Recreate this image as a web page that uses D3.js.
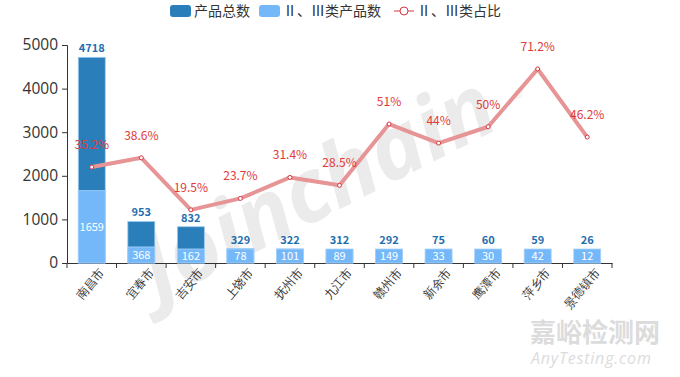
<!DOCTYPE html>
<html>
<head>
<meta charset="utf-8">
<script src="https://cdn.jsdelivr.net/npm/d3@7"></script>
<style>
	body { margin: 0; background: #fff; }
	svg { font-family: "Microsoft YaHei", "Noto Sans CJK SC", "Noto Sans", sans-serif; }
</style>
</head>
<body>
<div id="chart-area"></div>
<script>
// Data
let cities = ["南昌市", "宜春市", "吉安市", "上饶市", "抚州市", "九江市", "赣州市", "新余市", "鹰潭市", "萍乡市", "景德镇市"];
let totalCount = [4718, 953, 832, 329, 322, 312, 292, 75, 60, 59, 26];
let classCount = [1659, 368, 162, 78, 101, 89, 149, 33, 30, 42, 12];
let classRatio = [35.2, 38.6, 19.5, 23.7, 31.4, 28.5, 51, 44, 50, 71.2, 46.2];
let ratioLabels = ["35.2%", "38.6%", "19.5%", "23.7%", "31.4%", "28.5%", "51%", "44%", "50%", "71.2%", "46.2%"];
let yTicks = [0, 1000, 2000, 3000, 4000, 5000];

let darkBlue = "#2a7fba";
let lightBlue = "#74b8fa";
let lineColor = "#e69495";
let labelRed = "#e03a3a";

// SVG drawing space
let margin = {top: 45, right: 68, bottom: 114, left: 67};
let width = 680 - margin.left - margin.right;
let height = 377 - margin.top - margin.bottom;
let root = d3.select("#chart-area")
	.append("svg")
	.attr("width", 680)
	.attr("height", 377);

// Watermarks
root.append("text")
	.attr("transform", "translate(158,302) rotate(-27)")
	.attr("font-size", 88)
	.attr("font-weight", "bold")
	.attr("font-style", "italic")
	.attr("font-family", "Open Sans, sans-serif")
	.attr("fill", "#ebebeb")
	.text("Joinchain");
root.append("text")
	.attr("x", 514).attr("y", 104)
	.attr("font-size", 18)
	.attr("fill", "#ebebeb")
	.text("®");
root.append("text")
	.attr("x", 530).attr("y", 342)
	.attr("font-size", 26)
	.attr("font-weight", "bold")
	.attr("fill", "#dcdcdc")
	.text("嘉峪检测网");
root.append("text")
	.attr("x", 531).attr("y", 364)
	.attr("font-size", 16)
	.attr("letter-spacing", 0.8)
	.attr("font-style", "italic")
	.attr("font-family", "Open Sans, sans-serif")
	.attr("fill", "#dcdcdc")
	.text("AnyTesting.com");

let svg = root.append("g")
	.attr("transform", "translate(" + margin.left + "," + margin.top + ")");

// Scales
let x = d3.scaleBand()
	.domain(cities)
	.range([0, width]);
let y = d3.scaleLinear()
	.domain([0, 5000])
	.range([height, 0]);
let yRatio = d3.scaleLinear()
	.domain([0, 80])
	.range([height, 0]);

let barWidth = 27;
let minBar = 14;

// Axes
let yAxis = d3.axisLeft(y)
	.tickValues(yTicks)
	.tickFormat(d3.format("d"))
	.tickSize(5)
	.tickPadding(4);
let yAxisGroup = svg.append("g")
	.attr("class", "axis y-axis")
	.call(yAxis);
yAxisGroup.selectAll("text")
	.attr("font-size", 15.5)
	.attr("fill", "#333")
	.attr("font-family", "Open Sans, sans-serif");
yAxisGroup.selectAll("line, path").attr("stroke", "#333");

let xAxis = d3.axisBottom(x)
	.tickSize(0)
	.tickPadding(8);
let xAxisGroup = svg.append("g")
	.attr("class", "axis x-axis")
	.attr("transform", "translate(0," + height + ")")
	.call(xAxis);
xAxisGroup.select("path").attr("stroke", "#333");
xAxisGroup.selectAll("text")
	.attr("font-size", 12)
	.attr("fill", "#333")
	.attr("text-anchor", "end")
	.attr("transform", "translate(4,2) rotate(-50)")
	.attr("dy", "0.35em");
// ticks between categories
xAxisGroup.selectAll(".sep")
	.data(d3.range(cities.length + 1))
	.enter()
	.append("line")
	.attr("class", "sep")
	.attr("x1", d => d * x.step())
	.attr("x2", d => d * x.step())
	.attr("y1", 0)
	.attr("y2", 5)
	.attr("stroke", "#333");

// Total bars
svg.selectAll(".bar-total")
	.data(totalCount)
	.enter()
	.append("rect")
	.attr("class", "bar-total")
	.attr("x", (d, i) => x(cities[i]) + x.bandwidth() / 2 - barWidth / 2)
	.attr("y", d => y(d))
	.attr("width", barWidth)
	.attr("height", d => height - y(d))
	.attr("fill", darkBlue)
	.attr("stroke", "#9ccbf2")
	.attr("stroke-width", 0.8);

// Class bars
let lightH = d => Math.max(height - y(d), minBar);
svg.selectAll(".bar-class")
	.data(classCount)
	.enter()
	.append("rect")
	.attr("class", "bar-class")
	.attr("x", (d, i) => x(cities[i]) + x.bandwidth() / 2 - barWidth / 2)
	.attr("y", d => height - lightH(d))
	.attr("width", barWidth)
	.attr("height", d => lightH(d))
	.attr("fill", lightBlue)
	.attr("stroke", "#a9d3fb")
	.attr("stroke-width", 0.8);

// Total labels
svg.selectAll(".lab-total")
	.data(totalCount)
	.enter()
	.append("text")
	.attr("class", "lab-total")
	.attr("x", (d, i) => x(cities[i]) + x.bandwidth() / 2)
	.attr("y", d => Math.min(y(d), height - minBar) - 5)
	.attr("text-anchor", "middle")
	.attr("font-size", 11)
	.attr("font-weight", "bold")
	.attr("fill", "#1f6fae")
	.text(d => d);

// Class labels
svg.selectAll(".lab-class")
	.data(classCount)
	.enter()
	.append("text")
	.attr("class", "lab-class")
	.attr("x", (d, i) => x(cities[i]) + x.bandwidth() / 2)
	.attr("y", d => height - lightH(d) / 2)
	.attr("dy", "0.35em")
	.attr("text-anchor", "middle")
	.attr("font-size", 11)
	.attr("fill", "#fff")
	.text(d => d);

// Ratio line
let line = d3.line()
	.x((d, i) => x(cities[i]) + x.bandwidth() / 2)
	.y(d => yRatio(d))
	.curve(d3.curveLinear);
svg.append("path")
	.datum(classRatio)
	.attr("class", "line")
	.attr("fill", "none")
	.attr("stroke", lineColor)
	.attr("stroke-width", 4)
	.attr("stroke-linejoin", "round")
	.attr("d", line);

svg.selectAll(".dot")
	.data(classRatio)
	.enter()
	.append("circle")
	.attr("class", "dot")
	.attr("cx", (d, i) => x(cities[i]) + x.bandwidth() / 2)
	.attr("cy", d => yRatio(d))
	.attr("r", 2)
	.attr("fill", "#fff")
	.attr("stroke", "#d9363e")
	.attr("stroke-width", 1);

svg.selectAll(".lab-ratio")
	.data(classRatio)
	.enter()
	.append("text")
	.attr("class", "lab-ratio")
	.attr("x", (d, i) => x(cities[i]) + x.bandwidth() / 2)
	.attr("y", d => yRatio(d) - 18)
	.attr("text-anchor", "middle")
	.attr("font-size", 12)
	.attr("fill", labelRed)
	.text((d, i) => ratioLabels[i]);

// Legend
let legend = root.append("g").attr("class", "legend");
legend.append("rect")
	.attr("x", 170).attr("y", 5).attr("width", 21).attr("height", 12).attr("rx", 3)
	.attr("fill", darkBlue);
legend.append("text")
	.attr("x", 194).attr("y", 16).attr("font-size", 14).attr("fill", "#333")
	.text("产品总数");
legend.append("rect")
	.attr("x", 259).attr("y", 5).attr("width", 21).attr("height", 12).attr("rx", 3)
	.attr("fill", lightBlue);
legend.append("text")
	.attr("x", 283).attr("y", 16).attr("font-size", 14).attr("fill", "#333")
	.text("Ⅱ、Ⅲ类产品数");
legend.append("line")
	.attr("x1", 394).attr("x2", 414).attr("y1", 11).attr("y2", 11)
	.attr("stroke", "#d9363e").attr("stroke-width", 1);
legend.append("circle")
	.attr("cx", 404).attr("cy", 11).attr("r", 4)
	.attr("fill", "#fff").attr("stroke", "#d9363e");
legend.append("text")
	.attr("x", 417).attr("y", 16).attr("font-size", 14).attr("fill", "#333")
	.text("Ⅱ、Ⅲ类占比");
</script>
</body>
</html>
